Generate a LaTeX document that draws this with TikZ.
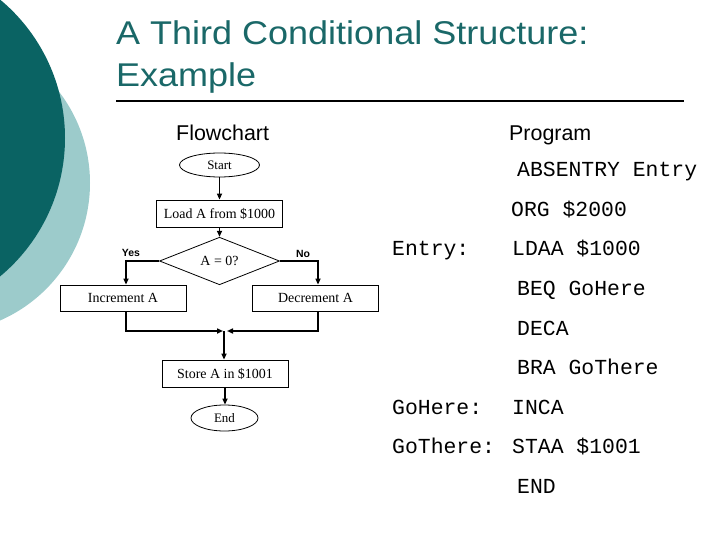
\documentclass[tikz,border=0pt]{standalone}
\usepackage{fontspec}
\setmainfont{Liberation Serif}
\setsansfont{Liberation Sans}
\setmonofont{Liberation Mono}
\usetikzlibrary{shapes.geometric,arrows.meta}
\definecolor{darkteal}{RGB}{10,99,99}
\definecolor{lightteal}{RGB}{156,203,203}
\definecolor{titleteal}{RGB}{26,104,104}
\tikzset{
  box/.style={draw,line width=0.8bp,inner sep=0pt,minimum width=126bp,minimum height=27bp,font=\fontsize{14}{16}\selectfont},
  term/.style={draw,line width=0.8bp,ellipse,inner sep=0pt,font=\fontsize{13}{15}\selectfont},
  cond/.style={draw,line width=0.8bp,diamond,inner sep=0pt,minimum width=120bp,minimum height=42bp,font=\fontsize{14}{16}\selectfont},
  flow/.style={line width=1.6bp,-{Triangle[length=6bp,width=5bp]}},
  code/.style={anchor=base west,inner sep=0pt,font=\fontsize{21.5}{24}\ttfamily},
  head/.style={anchor=base west,inner sep=0pt,font=\fontsize{21.5}{24}\sffamily},
  titletext/.style={anchor=base west,inner sep=0pt,text=titleteal,font=\fontsize{33}{40}\sffamily},
  branch/.style={inner sep=0pt,font=\fontsize{10.5}{12}\sffamily\bfseries}
}
\begin{document}
\begin{tikzpicture}[x=1bp,y=-1bp]
  \useasboundingbox (0,0) rectangle (720,540);
  \clip (0,0) rectangle (720,540);
  % side circles
  \fill[lightteal] (-60,183) circle[radius=150];
  \fill[darkteal] (-115,138) circle[radius=180];
  % title
  \node[titletext] (title1) at (116,45) {\scalebox{1.095}[1]{A Third Conditional Structure:}};
  \node[titletext] (title2) at (116,87) {\scalebox{1.095}[1]{Example}};
  \draw[line width=2bp] (116,101) -- (684,101);
  \node[head] (fchead) at (176,141) {Flowchart};
  \node[head] (prhead) at (509,141) {Program};
  % flowchart
  \node[term,minimum width=80bp,minimum height=24bp] (start) at (219.5,165) {Start};
  \node[box] (load) at (219.5,213.5) {Load A from \$1000};
  \node[cond] (dia) at (219.5,261) {A = 0?};
  \node[box,minimum height=26bp] (inc) at (123,298) {Increment A};
  \node[box,minimum height=26bp] (dec) at (315.5,298) {Decrement A};
  \node[box] (store) at (225,373.5) {Store A in \$1001};
  \node[term,minimum width=67bp,minimum height=26bp] (end) at (224.5,418) {End};
  \coordinate (join) at (224,331);
  \node[branch] (yes) at (131,253) {Yes};
  \node[branch] (no) at (303,253.5) {No};
  \draw[flow] (start) -- (load);
  \draw[flow] (load) -- (dia);
  \draw[flow] (dia.west) -| ([xshift=3bp]inc.north);
  \draw[flow] (dia.east) -| ([xshift=2.5bp]dec.north);
  \draw[flow] ([xshift=3bp]inc.south) |- ([xshift=-1bp]join);
  \draw[flow] ([xshift=2.5bp]dec.south) |- ([xshift=3bp]join);
  \draw[flow] (join) -- (join |- store.north);
  \draw[flow] (store.south) -- (store.south |- end.north);
  % program
  \node[code] (absentry) at (517,177) {ABSENTRY Entry};
  \node[code] (org) at (511,216.5) {ORG \$2000};
  \node[code] (lblentry) at (392,256) {Entry:};
  \node[code] (ldaa) at (512,256) {LDAA \$1000};
  \node[code] (beq) at (517,295.5) {BEQ GoHere};
  \node[code] (deca) at (517,335) {DECA};
  \node[code] (bra) at (517,374.5) {BRA GoThere};
  \node[code] (lblhere) at (392,414) {GoHere:};
  \node[code] (inca) at (512,414) {INCA};
  \node[code] (lblthere) at (392,453.5) {GoThere:};
  \node[code] (staa) at (512,453.5) {STAA \$1001};
  \node[code] (endop) at (517,493) {END};
\end{tikzpicture}
\end{document}
